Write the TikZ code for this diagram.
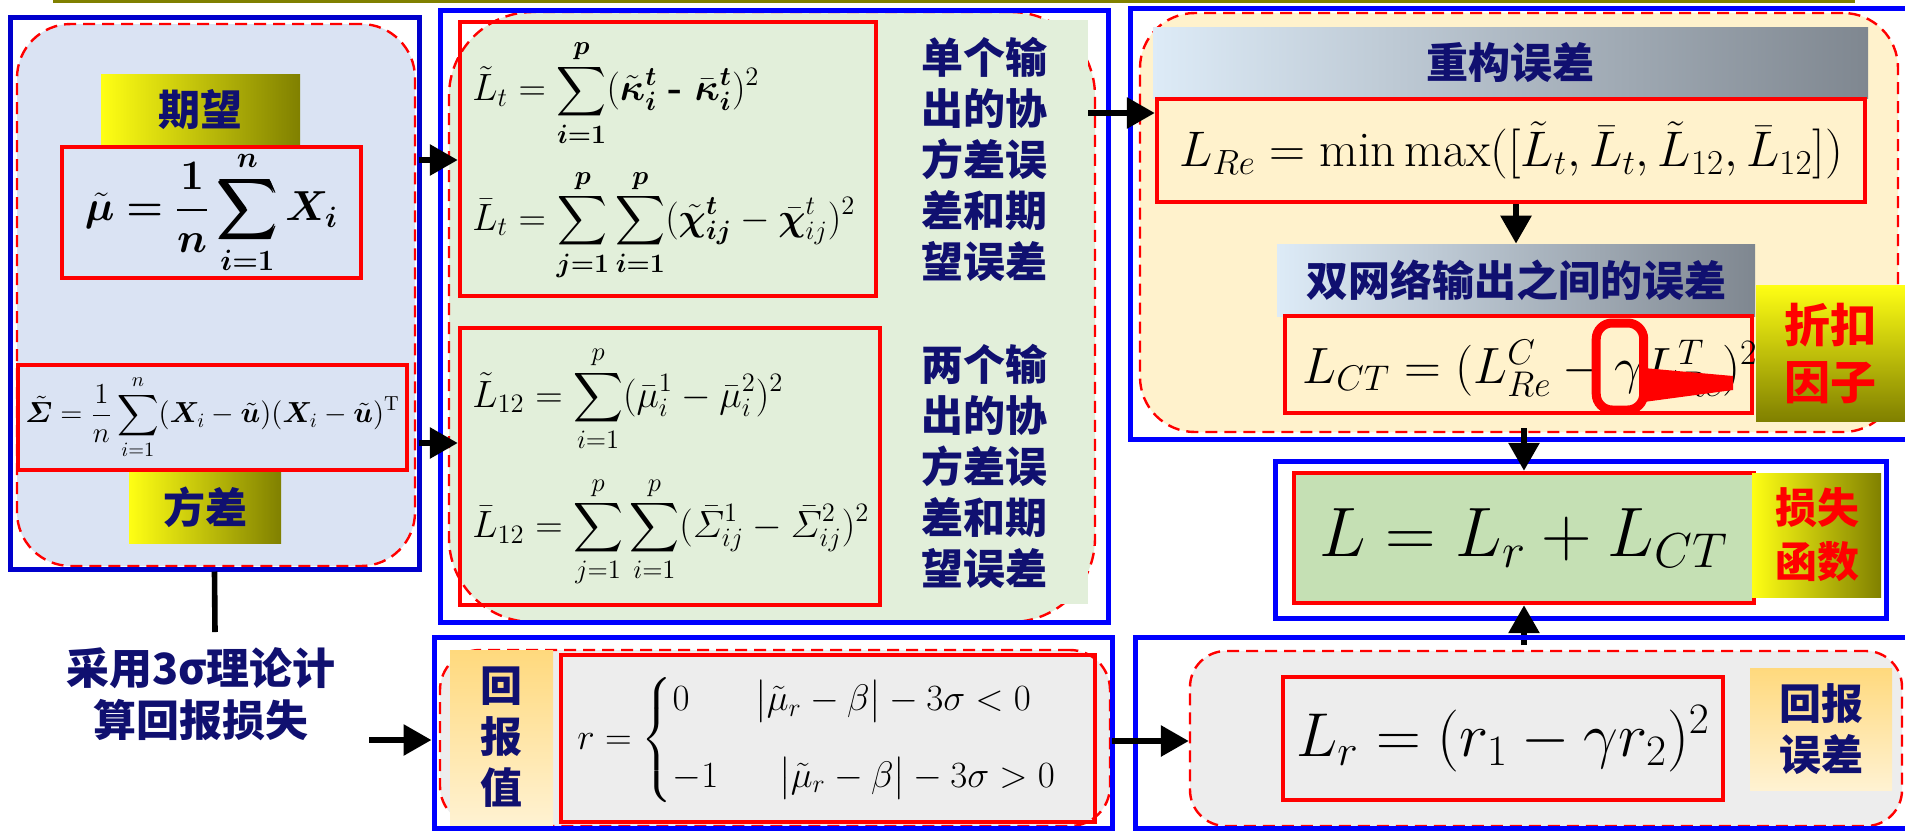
\RequirePackage{fix-cm}
\documentclass[tikz,border=0pt]{standalone}
\usepackage{amsmath}
\usepackage{fontspec}
\usepackage{bm}
\newfontfamily\cjk{Noto Sans CJK SC}
\usetikzlibrary{arrows.meta,fit}

\definecolor{navy}{RGB}{16,16,112}
\definecolor{deepblue}{RGB}{0,0,204}
\definecolor{paleblue}{RGB}{218,227,243}
\definecolor{palegreen}{RGB}{226,239,218}
\definecolor{cream}{RGB}{255,242,204}
\definecolor{palegray}{RGB}{237,237,237}
\definecolor{leafgreen}{RGB}{197,224,180}
\definecolor{oliveline}{RGB}{128,128,0}
\definecolor{lemon}{RGB}{255,255,20}
\definecolor{titleblue}{RGB}{221,235,247}
\definecolor{titlegray}{RGB}{127,135,144}
\definecolor{goldtop}{RGB}{255,217,125}
\definecolor{goldbot}{RGB}{255,242,210}

\tikzset{
  bluebox/.style={draw=blue, line width=2.5pt, inner sep=0pt},
  redbox/.style={draw=red, line width=2.2pt, inner sep=0pt},
  panel/.style={draw=red, dash pattern=on 6pt off 3.5pt, line width=1.2pt, fill=#1, inner sep=0pt},
  arr/.style={line width=3pt, -{Triangle[length=14pt,width=15pt]}},
  cnlabel/.style={font=\cjk\bfseries\fontsize{21}{25.5}\selectfont, text=navy, align=center, inner sep=0pt},
  redlabel/.style 2 args={font=\cjk\bfseries\fontsize{#1}{#2}\selectfont, text=red, align=center, inner sep=0pt},
  eq/.style={font=\fontsize{#1}{#1}\selectfont, inner sep=0pt},
  goldbar/.style={inner sep=0pt, left color=lemon, right color=oliveline},
  goldcol/.style={inner sep=0pt, top color=lemon, bottom color=oliveline},
  titlebar/.style={inner sep=0pt, left color=titleblue, right color=titlegray},
  sandbar/.style={inner sep=0pt, top color=goldtop, bottom color=goldbot},
}

\begin{document}
\begin{tikzpicture}[x=1pt,y=-1pt]
  \useasboundingbox (0,0) rectangle (952.5,415.5);
  \clip (0,0) rectangle (952.5,415.5);
  \fill[white] (0,0) rectangle (952.5,415.5);

  % top rule
  \draw[oliveline, line width=1.6pt] (26.5,0.8) -- (927.5,0.8);

  % left panel: mean and covariance
  \node[panel=paleblue, rounded corners=27pt, fit={(8.5,12) (207.5,283)}] (leftbg) {};
  \node[bluebox, draw=deepblue, fit={(5,8.5) (209.5,284.5)}] (leftpanel) {};
  \node[goldbar, fit={(50.5,37) (150,73)}] (meantag) {};
  \node[cnlabel] (meantext) at (meantag) {期望};
  \node[redbox, fit={(31,73.5) (180.5,139)}] (meanbox) {};
  \node[eq=21] (meaneq) at (meanbox)
    {$\displaystyle \bm{\tilde{\mu}=\frac{1}{n}\sum_{i=1}^{n}X_i}$};
  \node[redbox, fit={(9,182.5) (203.5,235)}] (covbox) {};
  \node[eq=14.5] (coveq) at (covbox)
    {$\displaystyle \tilde{\bm\varSigma}=\frac{1}{n}\sum_{i=1}^{n}(\bm X_i-\tilde{\bm u})(\bm X_i-\tilde{\bm u})^{\mathrm{T}}$};
  \node[goldbar, fit={(64.5,236) (140.5,271.5)}] (covtag) {};
  \node[cnlabel] (covtext) at (covtag) {方差};

  % 3 sigma note
  \node[cnlabel, font=\cjk\bfseries\fontsize{21.5}{26}\selectfont] (sigmanote) at (100.5,347) {采用3σ理论计\\算回报损失};
  \coordinate (stub) at (107.5,316);
  \draw[line width=2.8pt] (leftpanel.south) -- (stub);

  % middle panel: covariance and mean errors
  \node[panel=palegreen, rounded corners=42pt, fit={(224.5,6) (547.5,311)}] (midbg) {};
  \fill[palegreen] (447.5,10) rectangle (544,302);
  \node[bluebox, fit={(220,5) (554,311)}] (midpanel) {};
  \node[redbox, fit={(230,11) (438,148)}] (kappabox) {};
  \node[redbox, fit={(230,164) (440,302.5)}] (sigmabox) {};
  \node[eq=19, anchor=west] (ltilde) at (236,46.5)
    {$\displaystyle \tilde{L}_t=\sum_{\bm{i=1}}^{\bm p}(\bm{\tilde{\kappa}_i^t}\ \textbf{-}\ \bm{\bar{\kappa}_i^t})^2$};
  \node[eq=19, anchor=west] (lbar) at (236,112.5)
    {$\displaystyle \bar{L}_t=\sum_{\bm{j=1}}^{\bm p}\sum_{\bm{i=1}}^{\bm p}(\bm{\tilde{\chi}_{ij}^t}-\bm{\bar{\chi}}_{ij}^{t})^2$};
  \node[eq=19, anchor=west] (ltwelve) at (236,199.5)
    {$\displaystyle \tilde{L}_{12}=\sum_{i=1}^{p}(\bar{\mu}_i^1-\bar{\mu}_i^2)^2$};
  \node[eq=19, anchor=west] (lbartwelve) at (236,266)
    {$\displaystyle \bar{L}_{12}=\sum_{j=1}^{p}\sum_{i=1}^{p}(\bar{\varSigma}_{ij}^1-\bar{\varSigma}_{ij}^2)^2$};
  \node[cnlabel] (singlenote) at (492,79.5) {单个输\\出的协\\方差误\\差和期\\望误差};
  \node[cnlabel] (pairnote) at (492,233) {两个输\\出的协\\方差误\\差和期\\望误差};

  \coordinate (a1) at (209.5,80);
  \coordinate (a2) at (209.5,221.5);
  \draw[arr] (a1) -- (a1 -| kappabox.west);
  \draw[arr] (a2) -- (a2 -| sigmabox.west);

  % right top panel: reconstruction error
  \node[panel=cream, rounded corners=27.5pt, fit={(570,6.5) (949,216)}] (recbg) {};
  \node[bluebox, fit={(565,4) (960,219.5)}] (recpanel) {};
  \node[titlebar, fit={(576.5,13.5) (934,49)}] (rectitle) {};
  \node[cnlabel] (rectext) at (rectitle) {重构误差};
  \node[redbox, fill=cream, fit={(578.5,49.5) (932.5,101)}] (lrebox) {};
  \node[eq=25] (lreeq) at (lrebox)
    {$L_{Re}=\min\max([\tilde{L}_t,\bar{L}_t,\tilde{L}_{12},\bar{L}_{12}])$};
  \node[titlebar, fit={(638.5,122) (877.5,158)}] (cttitle) {};
  \node[cnlabel] (cttext) at (cttitle) {双网络输出之间的误差};
  \node[redbox, fill=cream, fit={(642.5,158) (876,206.5)}] (lctbox) {};
  \node[eq=25.5, anchor=base west] (ctleft) at (651,191.5) {$L_{CT}=(L_{Re}^{C}\mathbin{-}{}$};
  \node[eq=25.5, anchor=base west] (ctgamma) at (ctleft.base east) {$\gamma$};
  \node[eq=25.5, anchor=base west] (ctright) at (ctgamma.base east) {$L_{Re}^{T})^2$};
  \draw[red, line width=4.5pt, rounded corners=8pt] (ctgamma.west |- 0,161.5) ++(-9pt,0) rectangle (ctgamma.east |- 0,205);
  \fill[red] (ctgamma.east |- 0,184) -- (866.5,188) -- (866.5,195) -- (ctgamma.east |- 0,201) -- cycle;
  \node[goldcol, fit={(878,142.5) (955,210.5)}] (discounttag) {};
  \node[redlabel={23}{28.5}] (discountnote) at (915,176.75) {折扣\\因子};
  \draw[arr] (cttitle.north |- lrebox.south) -- (cttitle.north);

  \coordinate (a3) at (544,56.5);
  \draw[arr] (a3) -- (a3 -| lrebox.west);

  % loss function
  \node[bluebox, fit={(637.5,230.5) (943,309)}] (losspanel) {};
  \node[redbox, fill=leafgreen, fit={(647,236.5) (877,301.5)}] (lossbox) {};
  \node[eq=35] (losseq) at (lossbox) {$L=L_r+L_{CT}$};
  \node[goldbar, fit={(876,236.5) (940.5,298.5)}] (losstag) {};
  \node[redlabel={21}{27}] (lossnote) at (908.5,267.5) {损失\\函数};

  \coordinate (a4) at (762,214);
  \coordinate (a5) at (762,322.5);
  \draw[arr] (a4) -- (lossbox.north);
  \draw[arr] (a5) -- (lossbox.south);

  % bottom middle panel: reward value
  \node[panel=palegray, rounded corners=20pt, fit={(220,325) (555,413)}] (retbg) {};
  \node[bluebox, fit={(217,318.5) (556,414)}] (retpanel) {};
  \node[sandbar, fit={(225,325) (276.5,412.5)}] (rettag) {};
  \node[cnlabel] (rettext) at (rettag) {回\\报\\值};
  \node[redbox, fit={(280.5,327.5) (547.5,411)}] (rbox) {};
  \node[eq=18.5, anchor=west] (rcases) at (288.5,370)
    {$r=\begin{cases}0 & \bigl|\tilde{\mu}_r-\beta\bigr|-3\sigma<0\\[16pt] -1 & \hspace{12pt}\bigl|\tilde{\mu}_r-\beta\bigr|-3\sigma>0\end{cases}$};

  \coordinate (a6) at (184.5,370);
  \draw[arr] (a6) -- (a6 -| retpanel.west);

  % bottom right panel: reward error
  \node[panel=palegray, rounded corners=18pt, fit={(595,325.5) (951,413)}] (rewbg) {};
  \node[bluebox, fit={(567.5,318.5) (960,414)}] (rewpanel) {};
  \node[redbox, fit={(641.5,338.5) (861.5,400)}] (lrbox) {};
  \node[eq=31] (lreq) at (lrbox) {$L_r=(r_1-\gamma r_2)^2$};
  \node[sandbar, fit={(875,334) (946,395)}] (rewtag) {};
  \node[cnlabel] (rewtext) at (rewtag) {回报\\误差};

  \coordinate (a7) at (556,370.5);
  \draw[arr] (a7) -- (a7 -| rewbg.west);
\end{tikzpicture}
\end{document}
